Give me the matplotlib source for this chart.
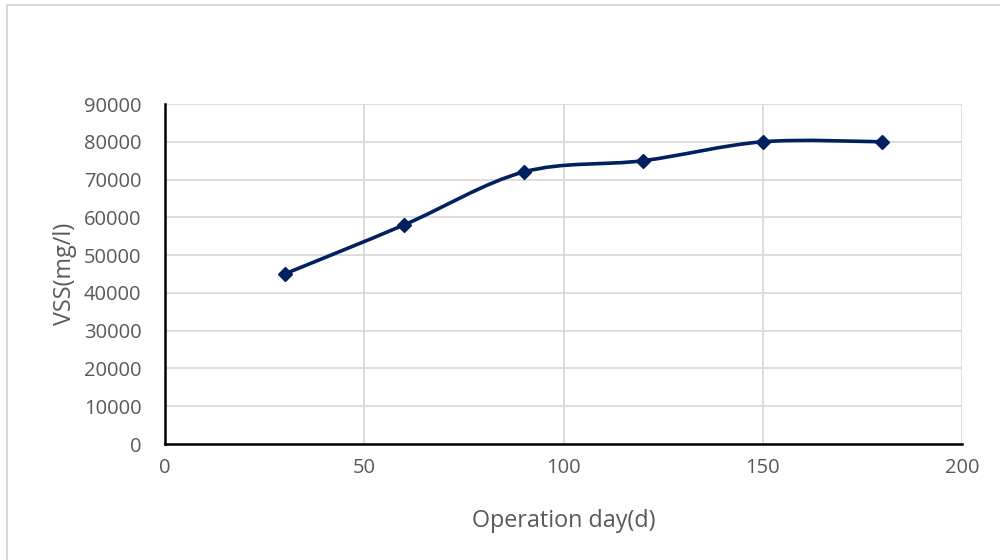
import matplotlib
matplotlib.use("Agg")
import matplotlib.pyplot as plt
from matplotlib.path import Path
from matplotlib.patches import PathPatch
from matplotlib.lines import Line2D
import numpy as np

days = [30, 60, 90, 120, 150, 180]
vss = [45000, 58000, 72000, 75000, 80000, 80000]
x_ticks = [0, 50, 100, 150, 200]
y_ticks = [0, 10000, 20000, 30000, 40000, 50000, 60000, 70000, 80000, 90000]
x_label = "Operation day(d)"
y_label = "VSS(mg/l)"

line_color = "#002060"
text_color = "#595959"
grid_color = "#d9d9d9"

plt.rcParams['font.family'] = ['Open Sans', 'DejaVu Sans']

fig = plt.figure(figsize=(10, 5.6), dpi=100)
ax = fig.add_axes([0.165, 1 - 444 / 560, 0.962 - 0.165, (444 - 104) / 560])

# smooth line through the data (Catmull-Rom style bezier, like Excel's smoothed line)
pts = np.array(list(zip(days, vss)), dtype=float)
verts = [tuple(pts[0])]
codes = [Path.MOVETO]
n = len(pts)
for i in range(n - 1):
    p0 = pts[i - 1] if i > 0 else pts[i]
    p1 = pts[i]
    p2 = pts[i + 1]
    p3 = pts[i + 2] if i + 2 < n else pts[i + 1]
    c1 = p1 + (p2 - p0) / 6.0
    c2 = p2 - (p3 - p1) / 6.0
    verts += [tuple(c1), tuple(c2), tuple(p2)]
    codes += [Path.CURVE4] * 3
patch = PathPatch(Path(verts, codes), facecolor="none", edgecolor=line_color,
                  lw=2.6, zorder=3, capstyle="round", joinstyle="round")
ax.add_patch(patch)
ax.plot(days, vss, linestyle="none", marker="D", markersize=7.5,
        color=line_color, zorder=4)

ax.set_xlim(0, 200)
ax.set_ylim(0, 90000)
ax.set_xticks(x_ticks)
ax.set_yticks(y_ticks)
ax.grid(True, color=grid_color, lw=1.3)
ax.set_axisbelow(True)
ax.tick_params(length=0, labelsize=14.5, colors=text_color)
ax.tick_params(axis="y", pad=17)
ax.tick_params(axis="x", pad=10)

for s in ["top", "right"]:
    ax.spines[s].set_visible(False)
for s in ["left", "bottom"]:
    ax.spines[s].set_color("black")
    ax.spines[s].set_linewidth(1.8)
    ax.spines[s].set_zorder(5)

ax.set_xlabel(x_label, fontsize=16.8, color=text_color)
ax.set_ylabel(y_label, fontsize=16.8, color=text_color)
ax.xaxis.set_label_coords(0.5, -0.19)
ax.yaxis.set_label_coords(-0.11, 0.5)

# chart frame (left and top edges visible)
fig.add_artist(Line2D([0.007, 0.007], [1 - 5 / 560, -0.1], transform=fig.transFigure,
                      color=grid_color, lw=1.5))
fig.add_artist(Line2D([0.007, 1.1], [1 - 5 / 560, 1 - 5 / 560], transform=fig.transFigure,
                      color=grid_color, lw=1.5))

fig.savefig("out.png", dpi=100, facecolor="white")
